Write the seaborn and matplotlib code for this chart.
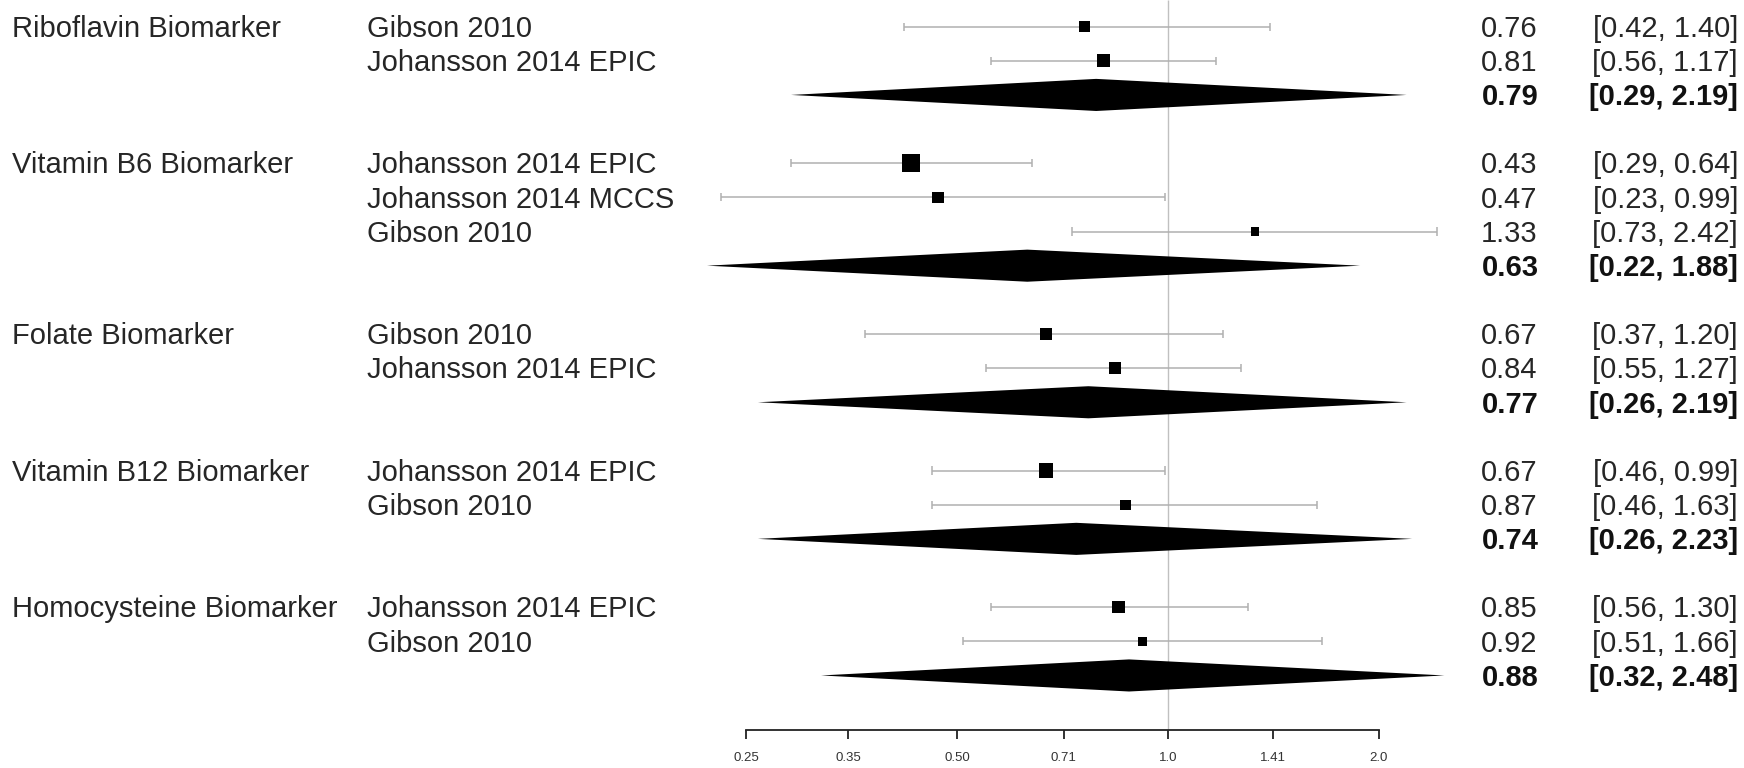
import matplotlib
matplotlib.use("Agg")
import matplotlib.pyplot as plt
from matplotlib.ticker import FixedLocator, FixedFormatter, NullLocator
import numpy as np
import pandas as pd
import seaborn as sns

# subgroups (biomarker) and pooled estimates
groups = ["Riboflavin Biomarker", "Vitamin B6 Biomarker", "Folate Biomarker",
          "Vitamin B12 Biomarker", "Homocysteine Biomarker"]
pooled_est = [0.79, 0.63, 0.77, 0.74, 0.88]
pooled_lb = [0.29, 0.22, 0.26, 0.26, 0.32]
pooled_ub = [2.19, 1.88, 2.19, 2.23, 2.48]

# individual studies
study_group = [0, 0, 1, 1, 1, 2, 2, 3, 3, 4, 4]
study_name = ["Gibson 2010", "Johansson 2014 EPIC",
              "Johansson 2014 EPIC", "Johansson 2014 MCCS", "Gibson 2010",
              "Gibson 2010", "Johansson 2014 EPIC",
              "Johansson 2014 EPIC", "Gibson 2010",
              "Johansson 2014 EPIC", "Gibson 2010"]
study_est = [0.76, 0.81, 0.43, 0.47, 1.33, 0.67, 0.84, 0.67, 0.87, 0.85, 0.92]
study_lb = [0.42, 0.56, 0.29, 0.23, 0.73, 0.37, 0.55, 0.46, 0.46, 0.56, 0.51]
study_ub = [1.40, 1.17, 0.64, 0.99, 2.42, 1.20, 1.27, 0.99, 1.63, 1.30, 1.66]
# relative study weight
study_weight = [10, 13, 18, 11, 8, 11, 12, 14, 10, 12, 9]

tick_vals = [0.25, 0.35, 0.50, 0.71, 1.0, 1.41, 2.0]
tick_labels = ["0.25", "0.35", "0.50", "0.71", "1.0", "1.41", "2.0"]

# row layout: studies, then pooled row, then a blank row
rows, pooled_rows, group_rows = [], [], []
r = 0
for g in range(len(groups)):
    group_rows.append(r)
    for i, sg in enumerate(study_group):
        if sg == g:
            rows.append(r)
            r += 1
    pooled_rows.append(r)
    r += 2

df = pd.DataFrame({"name": study_name, "est": study_est, "lb": study_lb,
                   "ub": study_ub, "w": study_weight, "row": rows})
df["area"] = (np.array(df["w"]) * 0.74) ** 2

sns.set_theme(style="white")
plt.rcParams["font.family"] = ["Liberation Sans", "DejaVu Sans"]
txt_col = "#262626"
fs = 21

fig = plt.figure(figsize=(17.44, 7.68), dpi=100)
ax = fig.add_axes([0, 0, 1, 1])
ax.set_xscale("log", base=2)
ax.set_xlim(2 ** -5.535, 2 ** 2.730)
ax.set_ylim(21.71, -0.78)
axis_y = 20.6

# reference line at 1
ax.vlines(1.0, -0.78, axis_y, color="#c0c0c0", lw=1, zorder=1)

# study CIs
ax.hlines(df["row"], df["lb"], df["ub"], color="#b0b0b0", lw=1.1, zorder=2)
ax.vlines(df["lb"], df["row"] - 0.12, df["row"] + 0.12, color="#b0b0b0", lw=1.1, zorder=2)
ax.vlines(df["ub"], df["row"] - 0.12, df["row"] + 0.12, color="#b0b0b0", lw=1.1, zorder=2)

sns.scatterplot(data=df, x="est", y="row", marker="s", s=df["area"],
                color="black", edgecolor="black", linewidth=0, ax=ax,
                legend=False, zorder=3)

# pooled diamonds
for est, lb, ub, y in zip(pooled_est, pooled_lb, pooled_ub, pooled_rows):
    ax.fill([lb, est, ub, est], [y, y - 0.47, y, y + 0.47],
            color="black", lw=0, zorder=3)

# text columns
off = 0.3
tr = ax.get_yaxis_transform()
for g, y in zip(groups, group_rows):
    ax.text(12 / 1744, y + off, g, transform=tr,
            ha="left", va="baseline", fontsize=fs, color=txt_col)
for _, s in df.iterrows():
    ax.text(367 / 1744, s["row"] + off, s["name"], transform=tr,
            ha="left", va="baseline", fontsize=fs, color=txt_col)
    ax.text(1537 / 1744, s["row"] + off, f"{s['est']:.2f}", transform=tr,
            ha="right", va="baseline", fontsize=fs, color=txt_col)
    ax.text(1738 / 1744, s["row"] + off, f"[{s['lb']:.2f}, {s['ub']:.2f}]",
            transform=tr, ha="right", va="baseline", fontsize=fs, color=txt_col)
for est, lb, ub, y in zip(pooled_est, pooled_lb, pooled_ub, pooled_rows):
    ax.text(1539 / 1744, y + off, f"{est:.2f}", transform=tr, ha="right",
            va="baseline", fontsize=fs, fontweight="bold", color="#111111")
    ax.text(1738 / 1744, y + off, f"[{lb:.2f}, {ub:.2f}]", transform=tr,
            ha="right", va="baseline", fontsize=fs, fontweight="bold", color="#111111")

# x axis
for side in ["left", "right", "top"]:
    ax.spines[side].set_visible(False)
ax.spines["bottom"].set_position(("data", axis_y))
ax.spines["bottom"].set_bounds(0.25, 2.0)
ax.spines["bottom"].set_color("#222222")
ax.spines["bottom"].set_linewidth(1.3)
ax.xaxis.set_major_locator(FixedLocator(tick_vals))
ax.xaxis.set_major_formatter(FixedFormatter(tick_labels))
ax.xaxis.set_minor_locator(NullLocator())
ax.tick_params(axis="x", bottom=True, direction="out", length=6.5, width=1.3,
               color="#222222", pad=9, labelsize=9.5, labelcolor="#333333")
ax.set_yticks([])
ax.set_xlabel("")
ax.set_ylabel("")

fig.savefig("out.png", dpi=100)
